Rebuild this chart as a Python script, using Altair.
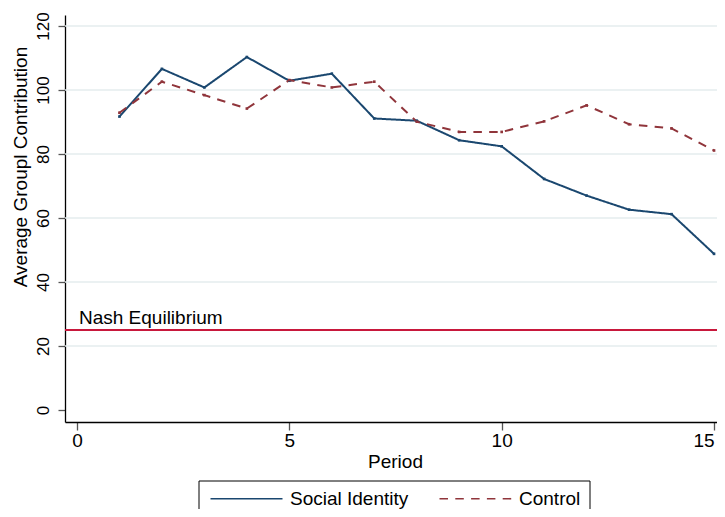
import altair as alt
import pandas as pd

# ---- data ----
periods = list(range(1, 16))
social_identity = [91.7, 106.6, 100.8, 110.3, 102.9, 105.1, 91.1, 90.4,
                   84.3, 82.4, 72.2, 67.0, 62.6, 61.2, 48.8]
control = [92.9, 102.6, 98.4, 94.2, 103.1, 100.8, 102.6, 90.1,
           86.9, 86.9, 90.2, 95.2, 89.3, 88.0, 81.1]
series_names = ["Social Identity", "Control"]
series_colors = ["#1a476f", "#90353b"]
series_dashes = [[1, 0], [8.5, 7.3]]
grid_values = [20, 40, 60, 80, 100, 120]
y_ticks = [0, 20, 40, 60, 80, 100, 120]
x_ticks = [0, 5, 10, 15]
nash_value = [25]
nash_label = ["Nash Equilibrium"]

df = pd.DataFrame({
    "Period": periods * 2,
    "Contribution": social_identity + control,
    "Group": [series_names[0]] * len(periods) + [series_names[1]] * len(periods),
})
grid_df = pd.DataFrame({"Contribution": grid_values})
nash_df = pd.DataFrame({"Contribution": nash_value, "Period": [0], "label": nash_label})

FONT = "Liberation Sans"
xscale = alt.Scale(domain=[-0.282, 15.07], nice=False, zero=False)
yscale = alt.Scale(domain=[-3.75, 123.44], nice=False, zero=False)
color_scale = alt.Scale(domain=series_names, range=series_colors)
dash_scale = alt.Scale(domain=series_names, range=series_dashes)

x_axis = alt.Axis(values=x_ticks, title="Period", grid=False, labelFlush=5,
                  labelOverlap=False, labelFontSize=19, tickSize=8, labelPadding=1,
                  titleFontSize=19, titleFontWeight="normal", titleY=45,
                  titleX=330, titleBaseline="alphabetic")
y_axis = alt.Axis(values=y_ticks, title="Average Groupl Contribution", grid=False,
                  labelFlush=False, labelOverlap=False, labelAngle=270,
                  labelAlign="center", labelBaseline="alphabetic", labelPadding=10,
                  tickSize=7, labelFontSize=17, titleFontSize=19,
                  titleFontWeight="normal", titleAngle=270, titleAlign="center",
                  titleBaseline="alphabetic", titleX=-38.3, titleY=151.5)

X = alt.X("Period:Q", scale=xscale, axis=x_axis)
Y = alt.Y("Contribution:Q", scale=yscale, axis=y_axis)

legend_def = alt.Legend(title=None, symbolType="M-1,0H11", symbolSize=144)

grid = alt.Chart(grid_df).mark_rule(color="#e4ecee", strokeWidth=1.5).encode(y=Y)

nash = alt.Chart(nash_df).mark_rule(color="#c8183c", strokeWidth=2).encode(y=Y)

nash_text = alt.Chart(nash_df).mark_text(
    align="left", baseline="alphabetic", dx=2, dy=-6, fontSize=19, font=FONT,
    color="black"
).encode(x=X, y=Y, text="label:N")

lines = alt.Chart(df).mark_line(strokeWidth=2).encode(
    x=X, y=Y,
    color=alt.Color("Group:N", scale=color_scale, sort=series_names, legend=legend_def),
    strokeDash=alt.StrokeDash("Group:N", scale=dash_scale, sort=series_names,
                              legend=legend_def),
)

points = alt.Chart(df).mark_point(filled=True, shape="square", size=7, opacity=1).encode(
    x=X, y=Y,
    color=alt.Color("Group:N", scale=color_scale, sort=series_names, legend=legend_def),
)

chart = alt.layer(grid, nash, lines, points, nash_text).properties(
    width=652, height=407, autosize="none",
    padding={"left": 57, "top": 7, "right": 0, "bottom": 87},
).configure_view(stroke=None).configure_axis(
    domainColor="black", domainWidth=1.3, tickColor="#555555", tickWidth=1.3,
    labelColor="black", titleColor="black", labelFont=FONT, titleFont=FONT,
).configure_legend(
    orient="none", legendX=133.5, legendY=465.5, direction="horizontal",
    strokeColor="black", fillColor="white", padding=8.5,
    symbolStrokeWidth=1.6, labelFontSize=19, labelFont=FONT,
    labelColor="black", labelOffset=64, columnPadding=27,
)

chart.save("out.html", embed_options={"renderer": "svg", "actions": False})
